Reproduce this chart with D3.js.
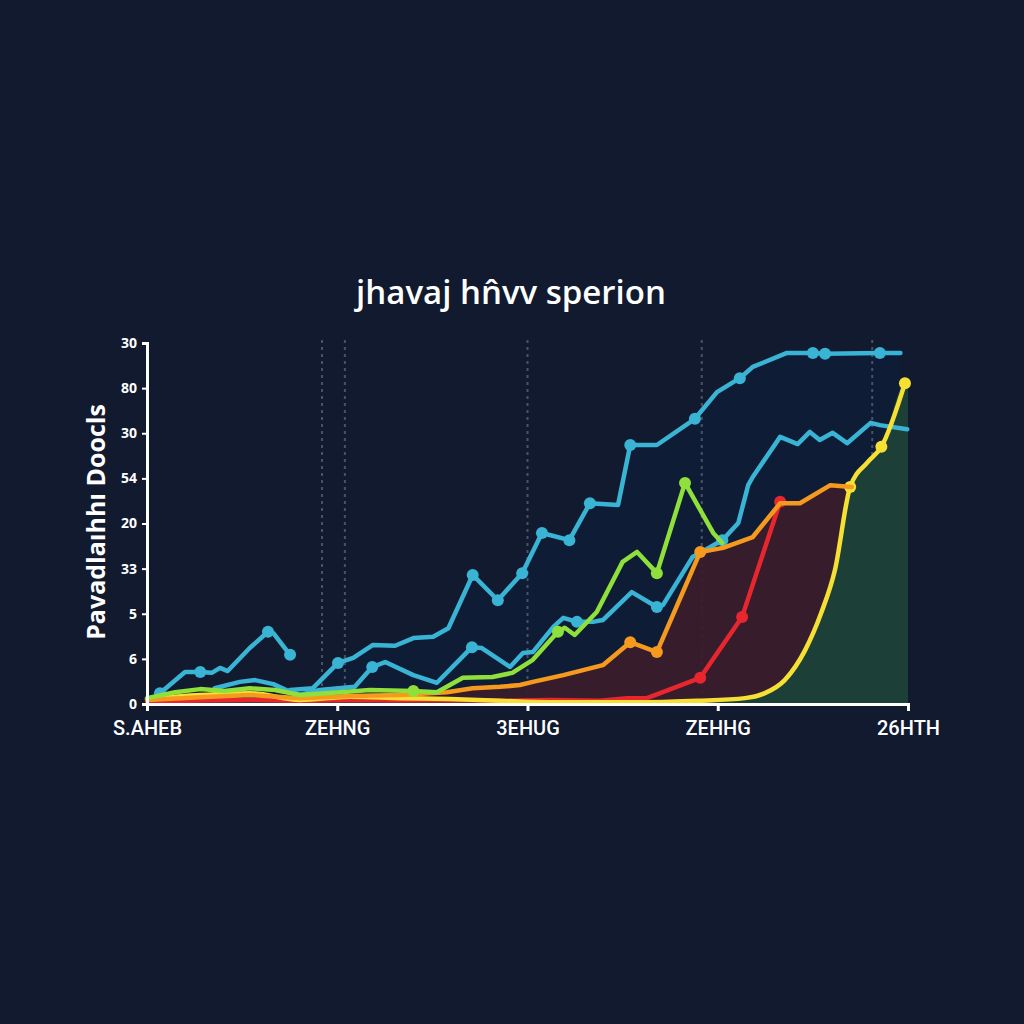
<!DOCTYPE html>
<html><head><meta charset="utf-8">
<script src="https://cdn.jsdelivr.net/npm/d3@7"></script>
<style>
html,body{margin:0;padding:0;background:#111a2f;}
svg{display:block;}
</style></head>
<body>
<svg id="chart" width="1024" height="1024"></svg>
<script>
// ---- data ----
const title = "jhavaj hn̂vv sperion";
const yAxisLabel = "Pavadlaıhhı Doocls";
const xTickValues = [0, 25, 50, 75, 100];
const xTickLabels = ["S.AHEB", "ZEHNG", "3EHUG", "ZEHHG", "26HTH"];
const yTickValues = [0, 10, 20, 30, 40, 50, 60, 70, 80];
const yTickLabels = ["0", "6", "5", "33", "20", "54", "30", "80", "30"];
const gridX = [23.0, 26.0, 50.0, 72.9, 95.3];

const cyanTopX = [18.8,21.8,25.1,27.1,29.7,32.6,35.0,37.6,39.6,42.8,46.1,49.3,51.9,55.5,58.2,61.9,63.5,67.0,72.0,74.9,77.9,79.6,84.1,87.5,89.1,96.3,99.0];
const cyanTopY = [3.1,3.5,9.1,10.2,13.1,12.9,14.6,14.9,16.8,28.6,23.0,29.0,37.9,36.3,44.5,44.1,57.4,57.4,63.2,69.1,72.2,74.7,77.8,77.8,77.6,77.8,77.8];
const cyanTopDots = [2,9,10,11,12,13,14,16,18,20,23,24,25];

const cyanLowX = [8.9,12.2,14.2,16.6,18.8,20.1,22.7,27.3,29.6,31.3,35.0,38.1,42.7,44.0,47.7,49.4,50.7,53.4,54.7,56.5,58.6,59.9,63.7,67.0,67.8,71.7,75.6,77.7,79.0,79.6,83.2,85.5,87.1,88.4,90.1,92.0,95.1,96.3,99.9];
const cyanLowY = [3.5,4.9,5.3,4.4,2.7,2.0,3.1,3.8,8.2,9.3,6.4,4.7,12.6,12.4,8.2,11.3,11.5,17.1,19.1,18.2,18.2,18.6,24.8,21.5,21.9,32.6,36.3,40.1,48.5,50.3,59.2,57.6,60.3,58.5,60.1,57.8,62.3,61.8,60.9];
const cyanLowDots = [8,12,19,23,26];

const cyanEarlyX = [1.7,5.0,7.0,8.5,9.6,10.6,13.5,15.9,16.6,18.8];
const cyanEarlyY = [2.4,7.1,7.1,6.9,8.0,7.3,12.4,16.0,15.7,10.9];
const cyanEarlyDots = [0,2,7,9];

const greenX = [0,3.7,7.0,10.2,13.5,16.8,20.1,25.4,29.3,35.0,38.1,41.5,45.4,48.0,50.7,54.0,54.9,56.2,59.1,62.5,64.4,67.0,70.7,74.4,75.6];
const greenY = [1.3,2.6,3.3,2.9,3.5,3.1,2.0,2.6,3.1,2.9,2.6,5.8,6.0,6.9,9.8,16.0,16.9,15.3,20.4,31.5,33.7,29.0,49.0,37.9,35.7];
const greenDots = [9,15,21,22];

const orangeX = [0,7.0,13.5,20.1,26.7,33.2,39.4,42.8,46.4,49.0,50.7,54.7,59.9,63.5,67.0,72.7,75.7,79.6,83.2,85.8,89.8,92.6];
const orangeY = [0.9,1.5,2.0,1.3,1.8,2.0,2.6,3.5,3.8,4.2,4.9,6.4,8.6,13.7,11.5,33.7,34.6,37.0,44.5,44.5,48.5,48.1];
const orangeDots = [13,14,15];

const redX = [0,7.0,13.5,20.1,26.7,33.2,39.8,46.4,53.0,59.5,63.1,65.7,72.7,78.2,83.2];
const redY = [0.5,0.8,0.9,0.7,0.9,0.8,0.9,0.7,0.9,0.7,1.3,1.3,5.8,19.3,44.8];
const redDots = [12,13,14];

const yellowX = [0,7.0,13.5,20.1,26.7,33.2,39.8,46.4,53.0,59.5,65.9,72.3,78.6,81.2,83.8,86.5,88.6,90.4,92.4,94.7,96.5,99.6];
const yellowY = [1.1,2.0,2.4,0.9,1.6,1.3,1.1,0.7,0.4,0.4,0.4,0.7,1.3,2.4,5.3,12.0,20.2,29.7,48.1,53.6,57.0,71.1];
const yellowDots = [18,20,21];

// ---- chart ----
const svg = d3.select("#chart");
const W = 1024, H = 1024;
svg.append("rect").attr("width", W).attr("height", H).attr("fill", "#111a2f");

const x = d3.scaleLinear().domain([0, 100]).range([147, 908]);
const y = d3.scaleLinear().domain([0, 80]).range([704, 343]);

const zip = (xs, ys) => xs.map((v, i) => [v, ys[i]]);
const lineLin = d3.line().x(d => x(d[0])).y(d => y(d[1]));
const lineMono = d3.line().x(d => x(d[0])).y(d => y(d[1])).curve(d3.curveMonotoneX);
const areaLin = d3.area().x(d => x(d[0])).y0(y(0)).y1(d => y(d[1]));
const areaMono = d3.area().x(d => x(d[0])).y0(y(0)).y1(d => y(d[1])).curve(d3.curveMonotoneX);

// title
svg.append("text").attr("x", 511).attr("y", 304).attr("text-anchor", "middle")
  .attr("fill", "#ffffff").attr("font-family", "'Open Sans', 'Noto Sans', sans-serif")
  .attr("font-weight", 600).attr("font-size", 33).text(title);

// y label
svg.append("text").attr("transform", "translate(105,522) rotate(-90)")
  .attr("text-anchor", "middle").attr("fill", "#ffffff")
  .attr("font-family", "'Open Sans', 'Noto Sans', sans-serif").attr("font-weight", 700)
  .attr("font-size", 25).text(yAxisLabel);

// areas
const cyanTop = zip(cyanTopX, cyanTopY);
svg.append("path").datum(cyanTop).attr("d", areaLin).attr("fill", "#0c2040").attr("opacity", 0.45);

// gridlines
svg.append("g").selectAll("line").data(gridX).join("line")
  .attr("x1", d => x(d)).attr("x2", d => x(d)).attr("y1", 340).attr("y2", y(0))
  .attr("stroke", "#4a5266").attr("stroke-width", 2).attr("stroke-dasharray", "3,4");

const orange = zip(orangeX, orangeY);
const yellow = zip(yellowX, yellowY);
svg.append("path").datum(orange).attr("d", areaLin).attr("fill", "#3a1d2c").attr("opacity", 0.95);
svg.append("path").datum(yellow.concat([[100, yellowY[yellowY.length-1]]])).attr("d", areaMono).attr("fill", "#1c3f38");

const series = [
  {pts: zip(cyanEarlyX, cyanEarlyY), dots: cyanEarlyDots, color: "#3ab4d4", gen: lineLin},
  {pts: zip(cyanLowX, cyanLowY), dots: cyanLowDots, color: "#3ab4d4", gen: lineLin},
  {pts: cyanTop, dots: cyanTopDots, color: "#3ab4d4", gen: lineLin},
  {pts: zip(redX, redY), dots: redDots, color: "#e8262d", gen: lineLin},
  {pts: yellow, dots: yellowDots, color: "#f7e034", gen: lineMono},
  {pts: orange, dots: orangeDots, color: "#f59a1f", gen: lineLin},
  {pts: zip(greenX, greenY), dots: greenDots, color: "#8fe03a", gen: lineLin},
];

series.forEach(s => {
  svg.append("path").datum(s.pts).attr("d", s.gen).attr("fill", "none")
    .attr("stroke", s.color).attr("stroke-width", 4.5).attr("stroke-linejoin", "round").attr("stroke-linecap", "round");
  svg.append("g").selectAll("circle").data(s.dots.map(i => s.pts[i])).join("circle")
    .attr("cx", d => x(d[0])).attr("cy", d => y(d[1])).attr("r", 6).attr("fill", s.color);
});

// axes
const yAxis = d3.axisLeft(y).tickValues(yTickValues).tickFormat((d, i) => yTickLabels[i]).tickSize(5).tickPadding(5);
const gy = svg.append("g").attr("transform", `translate(${x(0)},0)`).call(yAxis);
gy.select(".domain").attr("stroke", "#ffffff").attr("stroke-width", 3);
gy.selectAll(".tick line").attr("stroke", "#ffffff").attr("stroke-width", 2);
gy.selectAll(".tick text").attr("fill", "#ffffff").attr("font-family", "'Open Sans', 'Noto Sans', sans-serif")
  .attr("font-weight", 700).attr("font-size", 14);

const xAxis = d3.axisBottom(x).tickValues(xTickValues).tickFormat((d, i) => xTickLabels[i]).tickSize(7).tickPadding(10);
const gx = svg.append("g").attr("transform", `translate(0,${y(0)})`).call(xAxis);
gx.select(".domain").attr("stroke", "#ffffff").attr("stroke-width", 3);
gx.selectAll(".tick line").attr("stroke", "#ffffff").attr("stroke-width", 3);
gx.selectAll(".tick text").attr("fill", "#ffffff").attr("font-family", "Roboto, 'Liberation Sans', sans-serif")
  .attr("font-weight", 500).attr("font-size", 20);
</script>
</body></html>
